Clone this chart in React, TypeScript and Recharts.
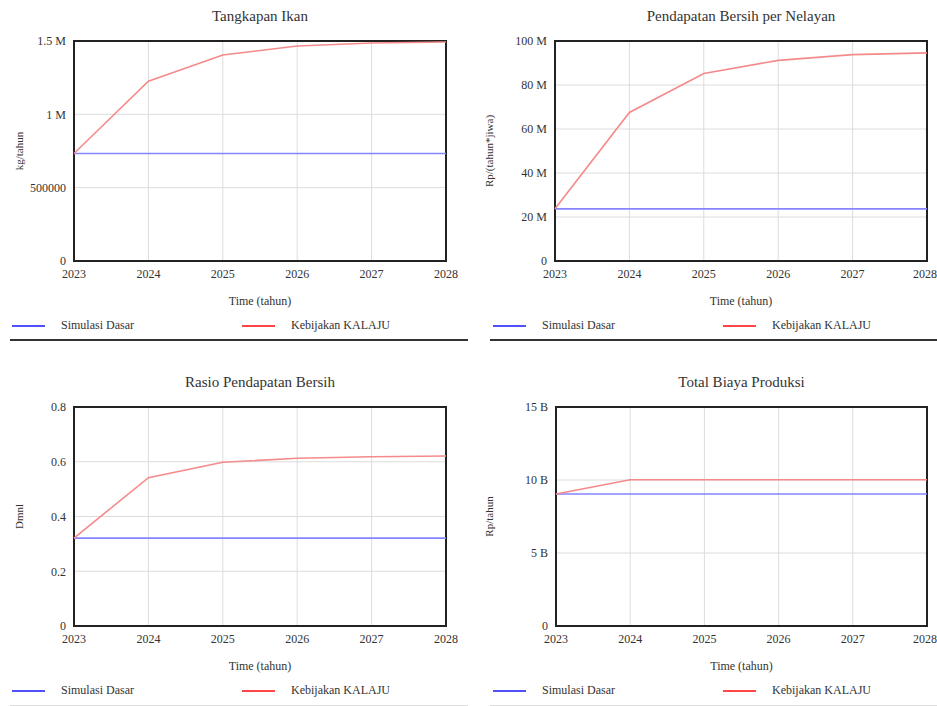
import { CartesianGrid, Line, LineChart, ReferenceArea, XAxis, YAxis } from "recharts";

const years = [2023, 2024, 2025, 2026, 2027, 2028];
const seriesNames = ["Simulasi Dasar", "Kebijakan KALAJU"];

const tangkapanDasar = [733000, 733000, 733000, 733000, 733000, 733000];
const tangkapanKalaju = [733000, 1226000, 1404000, 1466000, 1486000, 1493000];
const tangkapanTicks = [0, 500000, 1000000, 1500000];
const tangkapanTickLabels = ["0", "500000", "1 M", "1.5 M"];

const pendapatanDasar = [23.7e6, 23.7e6, 23.7e6, 23.7e6, 23.7e6, 23.7e6];
const pendapatanKalaju = [23.7e6, 67.5e6, 85.2e6, 91.2e6, 93.8e6, 94.6e6];
const pendapatanTicks = [0, 20e6, 40e6, 60e6, 80e6, 100e6];
const pendapatanTickLabels = ["0", "20 M", "40 M", "60 M", "80 M", "100 M"];

const rasioDasar = [0.321, 0.321, 0.321, 0.321, 0.321, 0.321];
const rasioKalaju = [0.321, 0.542, 0.598, 0.613, 0.618, 0.621];
const rasioTicks = [0, 0.2, 0.4, 0.6, 0.8];
const rasioTickLabels = ["0", "0.2", "0.4", "0.6", "0.8"];

const biayaDasar = [9.04e9, 9.04e9, 9.04e9, 9.04e9, 9.04e9, 9.04e9];
const biayaKalaju = [9.04e9, 10.02e9, 10.02e9, 10.02e9, 10.02e9, 10.02e9];
const biayaTicks = [0, 5e9, 10e9, 15e9];
const biayaTickLabels = ["0", "5 B", "10 B", "15 B"];

const FONT = "'Liberation Serif', 'DejaVu Serif', serif";
const TEXT = "#333";
const BLUE_LINE = "#8585ff";
const RED_LINE = "#f58a8a";

type PanelProps = {
  left: number;
  top: number;
  width: number;
  height: number;
  plotLeft: number;
  plotTop: number;
  plotRight: number;
  title: string;
  yLabel: string;
  dasar: number[];
  kalaju: number[];
  ticks: number[];
  tickLabels: string[];
  legendX: number;
  sepColor: string;
  sepWidth: number;
  sepLeft: number;
};

function Panel(p: PanelProps) {
  const data = years.map((t, i) => ({ t, dasar: p.dasar[i], kalaju: p.kalaju[i] }));
  const max = p.ticks[p.ticks.length - 1];
  const plotBottom = p.height - 80;
  const fmt = (v: number) => p.tickLabels[p.ticks.indexOf(v)] ?? "";

  return (
    <div style={{ position: "absolute", left: p.left, top: p.top, width: p.width, height: p.height, fontFamily: FONT }}>
      <div
        style={{
          position: "absolute",
          left: p.plotLeft,
          width: p.width - p.plotLeft - p.plotRight,
          top: p.plotTop - 33,
          textAlign: "center",
          fontSize: 15,
          color: TEXT,
        }}
      >
        {p.title}
      </div>
      <LineChart
        width={p.width}
        height={p.height}
        data={data}
        margin={{ top: p.plotTop, right: p.plotRight, bottom: 0, left: 0 }}
        style={{ fontFamily: FONT }}
      >
        <CartesianGrid stroke="#dcdcdc" strokeWidth={1} />
        <XAxis
          dataKey="t"
          type="number"
          domain={[2023, 2028]}
          ticks={years}
          height={80}
          axisLine={false}
          tickLine={false}
          tickMargin={2}
          tick={{ fill: TEXT, fontSize: 12, fontFamily: FONT }}
          label={{
            content: ({ viewBox }: any) => (
              <text
                x={viewBox.x + viewBox.width / 2}
                y={viewBox.y + 44}
                textAnchor="middle"
                fill={TEXT}
                fontSize={12}
                fontFamily={FONT}
              >
                Time (tahun)
              </text>
            ),
          }}
        />
        <YAxis
          width={p.plotLeft}
          domain={[0, max]}
          ticks={p.ticks}
          tickFormatter={fmt}
          axisLine={false}
          tickLine={false}
          tickMargin={2}
          tick={{ fill: TEXT, fontSize: 12, fontFamily: FONT }}
          label={{
            content: ({ viewBox }: any) => {
              const cx = 20;
              const cy = viewBox.y + viewBox.height / 2;
              return (
                <text
                  x={cx}
                  y={cy}
                  textAnchor="middle"
                  dominantBaseline="middle"
                  fill={TEXT}
                  fontSize={11}
                  fontFamily={FONT}
                  transform={`rotate(-90 ${cx} ${cy})`}
                >
                  {p.yLabel}
                </text>
              );
            },
          }}
        />
        <ReferenceArea
          x1={2023}
          x2={2028}
          y1={0}
          y2={max}
          fill="none"
          stroke="#222"
          strokeWidth={2}
        />
        <Line
          dataKey="dasar"
          name={seriesNames[0]}
          stroke={BLUE_LINE}
          strokeWidth={1.6}
          dot={false}
          isAnimationActive={false}
        />
        <Line
          dataKey="kalaju"
          name={seriesNames[1]}
          stroke={RED_LINE}
          strokeWidth={1.6}
          dot={false}
          isAnimationActive={false}
        />
      </LineChart>
      <div
        style={{
          position: "absolute",
          left: 0,
          top: plotBottom + 57,
          width: p.width,
          height: 16,
          fontSize: 12,
          color: TEXT,
        }}
      >
        {[
          { name: seriesNames[0], color: "#5050ff", x: p.legendX },
          { name: seriesNames[1], color: "#ff4545", x: p.legendX + 230 },
        ].map((it) => (
          <div key={it.name} style={{ position: "absolute", left: it.x, top: 0, display: "flex", alignItems: "center" }}>
            <div style={{ width: 33, height: 2, background: it.color, marginRight: 16 }} />
            <span>{it.name}</span>
          </div>
        ))}
      </div>
      <div
        style={{
          position: "absolute",
          left: p.sepLeft,
          right: 0,
          top: p.height - p.sepWidth,
          height: p.sepWidth,
          background: p.sepColor,
        }}
      />
    </div>
  );
}

export default function App() {
  return (
    <div style={{ position: "absolute", left: 0, top: 0, width: 937, height: 706, background: "#fff", overflow: "hidden" }}>
      <Panel
        left={0}
        top={0}
        width={468}
        height={341}
        plotLeft={74}
        plotTop={41}
        plotRight={22}
        title="Tangkapan Ikan"
        yLabel="kg/tahun"
        dasar={tangkapanDasar}
        kalaju={tangkapanKalaju}
        ticks={tangkapanTicks}
        tickLabels={tangkapanTickLabels}
        legendX={12}
        sepColor="#333"
        sepWidth={2}
        sepLeft={10}
      />
      <Panel
        left={470}
        top={0}
        width={467}
        height={341}
        plotLeft={85}
        plotTop={41}
        plotRight={10}
        title="Pendapatan Bersih per Nelayan"
        yLabel="Rp/(tahun*jiwa)"
        dasar={pendapatanDasar}
        kalaju={pendapatanKalaju}
        ticks={pendapatanTicks}
        tickLabels={pendapatanTickLabels}
        legendX={23}
        sepColor="#333"
        sepWidth={2}
        sepLeft={20}
      />
      <Panel
        left={0}
        top={355}
        width={468}
        height={351}
        plotLeft={74}
        plotTop={52}
        plotRight={22}
        title="Rasio Pendapatan Bersih"
        yLabel="Dmnl"
        dasar={rasioDasar}
        kalaju={rasioKalaju}
        ticks={rasioTicks}
        tickLabels={rasioTickLabels}
        legendX={12}
        sepColor="#ddd"
        sepWidth={1}
        sepLeft={10}
      />
      <Panel
        left={470}
        top={355}
        width={467}
        height={351}
        plotLeft={86}
        plotTop={52}
        plotRight={10}
        title="Total Biaya Produksi"
        yLabel="Rp/tahun"
        dasar={biayaDasar}
        kalaju={biayaKalaju}
        ticks={biayaTicks}
        tickLabels={biayaTickLabels}
        legendX={23}
        sepColor="#ddd"
        sepWidth={1}
        sepLeft={20}
      />
    </div>
  );
}
